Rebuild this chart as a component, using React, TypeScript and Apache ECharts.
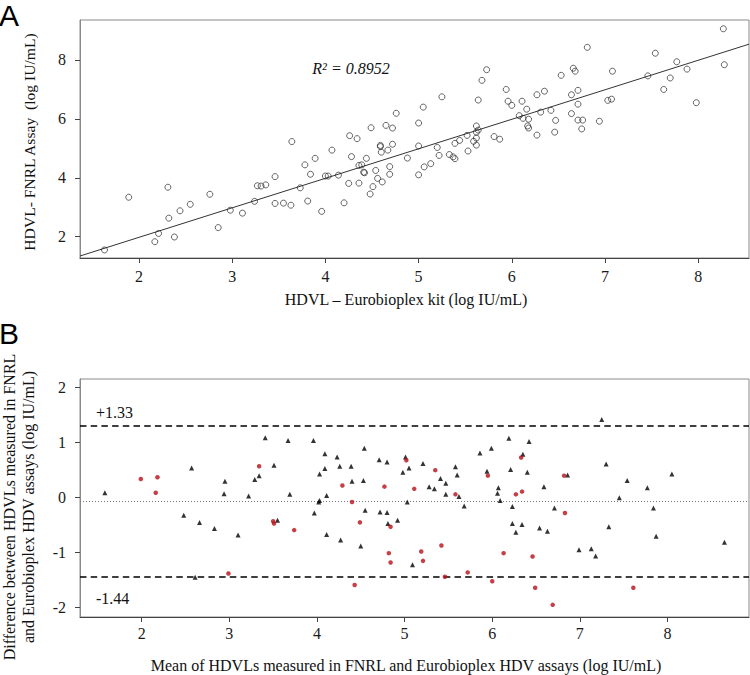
import React, { useEffect, useRef } from "react";
import * as echarts from "echarts";

// ---------- Panel A: FNRL vs Eurobioplex (log IU/mL) ----------
const A_EUROBIOPLEX = [
  1.63, 1.89, 2.17, 2.21, 2.31, 2.32, 2.38, 2.44, 2.55, 2.76, 2.85, 2.98, 3.11, 3.24, 3.27, 3.31,
  3.36, 3.46, 3.46, 3.55, 3.64, 3.63, 3.73, 3.78, 3.81, 3.84, 3.89, 3.96, 4.0, 4.03, 4.07, 4.14,
  4.2, 4.25, 4.26, 4.28, 4.34, 4.36, 4.36, 4.39, 4.41, 4.42, 4.44, 4.49, 4.48, 4.51, 4.54, 4.56,
  4.61, 4.59, 4.59, 4.6, 4.65, 4.67, 4.69, 4.69, 4.72, 4.72, 4.76, 4.88, 5.0, 5.0, 5.0, 5.05,
  5.06, 5.13, 5.2, 5.22, 5.25, 5.33, 5.37, 5.39, 5.39, 5.44, 5.52, 5.53, 5.59, 5.62, 5.62, 5.62,
  5.62, 5.64, 5.64, 5.68, 5.73, 5.81, 5.87, 5.94, 5.96, 6.0, 6.08, 6.11, 6.12, 6.16, 6.17, 6.18,
  6.18, 6.27, 6.27, 6.31, 6.35, 6.42, 6.46, 6.47, 6.53, 6.64, 6.64, 6.66, 6.68, 6.71, 6.71, 6.71,
  6.75, 6.76, 6.81, 6.94, 7.03, 7.07, 7.08, 7.46, 7.54, 7.63, 7.7, 7.77, 7.88, 7.98, 8.27, 8.28,
];
const A_FNRL = [
  1.55, 3.34, 1.83, 2.11, 3.68, 2.63, 1.99, 2.88, 3.1, 3.44, 2.31, 2.9, 2.8, 3.2, 3.73, 3.72,
  3.76, 4.04, 3.13, 3.14, 5.23, 3.07, 3.66, 4.44, 3.21, 4.12, 4.66, 2.86, 4.06, 4.06, 4.94, 4.09,
  3.15, 3.81, 5.43, 4.72, 5.33, 3.82, 4.42, 4.44, 4.19, 4.17, 4.66, 5.7, 3.45, 3.7, 4.25, 3.98,
  3.86, 5.1, 5.06, 4.87, 5.78, 4.94, 4.38, 4.12, 5.14, 5.69, 6.19, 4.67, 5.86, 5.08, 4.1, 6.4,
  4.37, 4.48, 5.03, 4.76, 6.75, 4.79, 4.71, 4.65, 5.17, 5.27, 5.44, 4.91, 5.24, 5.76, 5.35, 5.11,
  5.55, 5.62, 6.64, 7.31, 7.67, 5.4, 5.31, 7.0, 6.6, 6.46, 6.11, 6.6, 6.02, 6.33, 5.76, 5.99,
  5.69, 6.82, 5.45, 6.23, 6.94, 6.29, 5.55, 5.95, 7.48, 6.82, 6.18, 7.72, 7.62, 6.97, 6.5, 5.96,
  5.66, 5.96, 8.43, 5.92, 6.63, 6.67, 7.62, 7.46, 8.23, 7.0, 7.39, 7.94, 7.69, 6.55, 9.06, 7.84,
];
const REG_SLOPE = 1.002;
const REG_INTERCEPT = -0.025;
const R2_LABEL = "R² = 0.8952";
const A_X_TICKS = [2, 3, 4, 5, 6, 7, 8];
const A_Y_TICKS = [2, 4, 6, 8];

// ---------- Panel B: Bland-Altman ----------
const B_BLACK_MEAN = [
  1.58, 2.57, 2.95, 2.94, 3.22, 2.48, 2.66, 2.83, 3.1, 2.61, 3.41, 3.67, 3.96, 4.09, 4.23, 4.54,
  3.51, 4.09, 4.26, 4.39, 4.71, 4.8, 5.01, 5.05, 4.98, 3.29, 3.34, 4.03, 4.4, 4.53, 3.69, 4.11,
  4.03, 4.02, 5.03, 3.97, 4.55, 4.72, 4.8, 3.55, 4.81, 4.92, 4.11, 4.27, 4.5, 5.09, 5.21, 5.28,
  5.34, 5.41, 5.47, 5.47, 5.58, 5.6, 5.62, 5.68, 5.86, 5.99, 5.94, 6.07, 6.06, 6.09, 6.19, 6.21,
  6.23, 6.23, 6.27, 6.34, 6.35, 6.4, 6.42, 6.59, 6.71, 6.86, 6.54, 6.63, 6.99, 7.25, 7.3, 7.54,
  7.77, 8.05, 7.45, 7.84, 7.33, 7.87, 8.65, 7.13, 7.18,
];
const B_BLACK_DIFF = [
  0.09, 0.54, 0.3, 0.07, 0.03, -0.32, -0.45, -0.56, -0.68, -1.45, 1.09, 1.04, 1.04, 0.8, 0.74, 0.9,
  0.59, 0.53, 0.57, 0.57, 0.69, 0.65, 0.74, 0.54, 0.46, 0.33, 0.4, 0.43, 0.3, 0.31, 0.06, 0.04,
  -0.05, -0.08, -0.08, -0.28, -0.23, -0.26, -0.27, -0.41, -0.47, -0.41, -0.67, -0.77, -0.88, -1.22, 0.62, 0.2,
  0.16, 0.35, 0.26, 0.06, 0.56, 0.41, 0.02, -0.15, 0.81, 0.9, 0.48, 0.18, 0.08, -0.05, 1.08, 0.51,
  -0.16, -0.47, -0.63, -0.49, 0.79, 0.46, 1.02, 0.2, -0.19, 0.41, -0.55, -0.61, -0.95, 1.42, 0.61, 0.31,
  0.18, 0.43, 0.0, -0.19, -0.53, -0.7, -0.81, -0.93, -1.06,
];
const B_RED_MEAN = [
  1.99, 2.18, 2.16, 2.99, 3.34, 4.29, 4.77, 5.02, 5.11, 4.4, 3.5, 3.51, 3.74, 4.49, 4.84, 4.82,
  4.84, 4.43, 5.35, 5.58, 5.95, 6.33, 6.27, 6.34, 6.82, 6.83, 5.42, 5.19, 5.21, 5.46, 5.72, 6.0,
  6.13, 6.46, 6.49, 6.69, 7.61,
];
const B_RED_DIFF = [
  0.34, 0.37, 0.09, -1.38, 0.57, 0.22, 0.2, 0.68, 0.16, -0.08, -0.43, -0.47, -0.59, -0.45, -0.53, -1.01,
  -1.18, -1.59, 0.5, 0.06, 0.4, 0.73, 0.06, 0.11, 0.4, -0.28, -0.87, -0.98, -1.15, -1.44, -1.36, -1.52,
  -1.01, -1.07, -1.64, -1.95, -1.64,
];
const B_UPPER_LIMIT = 1.3;
const B_LOWER_LIMIT = -1.44;
const B_MEAN_DIFF = -0.07;
const B_UPPER_LABEL = "+1.33";
const B_LOWER_LABEL = "-1.44";
const B_X_TICKS = [2, 3, 4, 5, 6, 7, 8];
const B_Y_TICKS = [-2, -1, 0, 1, 2];

// axis extents
const A_X_MIN = 1.367;
const A_X_MAX = 8.545;
const A_Y_MIN = 1.277;
const A_Y_MAX = 9.358;
const B_X_MIN = 1.296;
const B_X_MAX = 8.93;
const B_Y_MIN = -2.171;
const B_Y_MAX = 2.158;

const SERIF = "'Liberation Serif', 'Times New Roman', serif";
const SANS = "'Liberation Sans', Arial, sans-serif";

function zip(a: number[], b: number[]) {
  return a.map((v, i) => [v, b[i]]);
}

function axisX(grid: number, min: number, max: number, ticks: number[], margin: number) {
  return {
    type: "value",
    gridIndex: grid,
    min,
    max,
    axisLine: { show: true, onZero: false, lineStyle: { color: "#444", width: 1 } },
    axisTick: { show: true, length: 5, customValues: ticks, lineStyle: { color: "#444", width: 1 } },
    axisLabel: {
      customValues: ticks,
      margin,
      fontFamily: SERIF,
      fontSize: 16,
      color: "#1a1a1a",
    },
    splitLine: { show: false },
  };
}

function axisY(grid: number, min: number, max: number, ticks: number[]) {
  return {
    type: "value",
    gridIndex: grid,
    min,
    max,
    axisLine: { show: true, onZero: false, lineStyle: { color: "#8a8a8a", width: 1 } },
    axisTick: { show: true, length: 5, customValues: ticks, lineStyle: { color: "#444", width: 1 } },
    axisLabel: {
      customValues: ticks,
      margin: 14,
      fontFamily: SERIF,
      fontSize: 16,
      color: "#1a1a1a",
    },
    splitLine: { show: false },
  };
}

export default function App() {
  const ref = useRef<HTMLDivElement>(null);

  useEffect(() => {
    if (!ref.current) return;
    const chart = echarts.init(ref.current, null, { renderer: "svg" });

    const regData = [
      [A_X_MIN, REG_SLOPE * A_X_MIN + REG_INTERCEPT],
      [A_X_MAX, REG_SLOPE * A_X_MAX + REG_INTERCEPT],
    ];

    chart.setOption({
      animation: false,
      backgroundColor: "#ffffff",
      grid: [
        { left: 80, top: 20, width: 669, height: 238, show: true, borderColor: "#8a8a8a", borderWidth: 1 },
        { left: 80, top: 379, width: 669, height: 238, show: true, borderColor: "#8a8a8a", borderWidth: 1 },
      ],
      xAxis: [
        axisX(0, A_X_MIN, A_X_MAX, A_X_TICKS, 10),
        axisX(1, B_X_MIN, B_X_MAX, B_X_TICKS, 8),
      ],
      yAxis: [
        axisY(0, A_Y_MIN, A_Y_MAX, A_Y_TICKS),
        axisY(1, B_Y_MIN, B_Y_MAX, B_Y_TICKS),
      ],
      series: [
        {
          type: "line",
          xAxisIndex: 0,
          yAxisIndex: 0,
          data: regData,
          showSymbol: false,
          symbol: "none",
          lineStyle: { color: "#333", width: 1 },
          z: 2,
        },
        {
          type: "scatter",
          xAxisIndex: 0,
          yAxisIndex: 0,
          data: zip(A_EUROBIOPLEX, A_FNRL),
          symbol: "circle",
          symbolSize: 6,
          itemStyle: { color: "rgba(0,0,0,0)", borderColor: "#2a2a2a", borderWidth: 0.9 },
          z: 3,
        },
        {
          type: "scatter",
          xAxisIndex: 1,
          yAxisIndex: 1,
          data: zip(B_BLACK_MEAN, B_BLACK_DIFF),
          symbol: "triangle",
          symbolSize: 5,
          itemStyle: { color: "#000" },
          z: 3,
          markLine: {
            silent: true,
            symbol: "none",
            label: { show: false },
            z: 1,
            data: [
              { yAxis: B_UPPER_LIMIT, lineStyle: { color: "#000", width: 1.6, type: [6.5, 4.2] } },
              { yAxis: B_LOWER_LIMIT, lineStyle: { color: "#000", width: 1.6, type: [6.5, 4.2] } },
              { yAxis: B_MEAN_DIFF, lineStyle: { color: "#777", width: 1, type: [1, 2] } },
            ],
          },
        },
        {
          type: "scatter",
          xAxisIndex: 1,
          yAxisIndex: 1,
          data: zip(B_RED_MEAN, B_RED_DIFF),
          symbol: "circle",
          symbolSize: 4.5,
          itemStyle: { color: "#b80f18" },
          z: 4,
        },
      ],
      graphic: [
        { type: "text", left: -1, top: 0, style: { text: "A", fontFamily: SANS, fontSize: 30, fill: "#000" } },
        { type: "text", left: -1, top: 318, style: { text: "B", fontFamily: SANS, fontSize: 30, fill: "#000" } },
        {
          type: "text",
          x: 351,
          y: 68,
          style: {
            text: R2_LABEL,
            fontFamily: SERIF,
            fontStyle: "italic",
            fontSize: 16,
            fill: "#111",
            align: "center",
            verticalAlign: "middle",
          },
        },
        {
          type: "text",
          x: 406,
          y: 299,
          style: {
            text: "HDVL – Eurobioplex kit (log IU/mL)",
            fontFamily: SERIF,
            fontSize: 16,
            fill: "#111",
            align: "center",
            verticalAlign: "middle",
          },
        },
        {
          type: "text",
          x: 29,
          y: 142,
          rotation: Math.PI / 2,
          style: {
            text: "HDVL- FNRL Assay  (log IU/mL)",
            fontFamily: SERIF,
            fontSize: 15.6,
            fill: "#111",
            align: "center",
            verticalAlign: "middle",
          },
        },
        {
          type: "text",
          x: 96,
          y: 412,
          style: { text: B_UPPER_LABEL, fontFamily: SERIF, fontSize: 16, fill: "#111", align: "left", verticalAlign: "middle" },
        },
        {
          type: "text",
          x: 96,
          y: 598,
          style: { text: B_LOWER_LABEL, fontFamily: SERIF, fontSize: 16, fill: "#111", align: "left", verticalAlign: "middle" },
        },
        {
          type: "text",
          x: 406,
          y: 665,
          style: {
            text: "Mean of HDVLs measured in FNRL and Eurobioplex HDV assays (log IU/mL)",
            fontFamily: SERIF,
            fontSize: 16,
            fill: "#111",
            align: "center",
            verticalAlign: "middle",
          },
        },
        {
          type: "text",
          x: 9,
          y: 507,
          rotation: Math.PI / 2,
          style: {
            text: "Difference between HDVLs measured in FNRL",
            fontFamily: SERIF,
            fontSize: 16,
            fill: "#111",
            align: "center",
            verticalAlign: "middle",
          },
        },
        {
          type: "text",
          x: 28,
          y: 507,
          rotation: Math.PI / 2,
          style: {
            text: "and Eurobioplex HDV assays (log IU/mL)",
            fontFamily: SERIF,
            fontSize: 16,
            fill: "#111",
            align: "center",
            verticalAlign: "middle",
          },
        },
      ],
    });

    return () => chart.dispose();
  }, []);

  return (
    <div
      ref={ref}
      style={{ position: "fixed", left: 0, top: 0, width: 750, height: 675, background: "#fff" }}
    />
  );
}
